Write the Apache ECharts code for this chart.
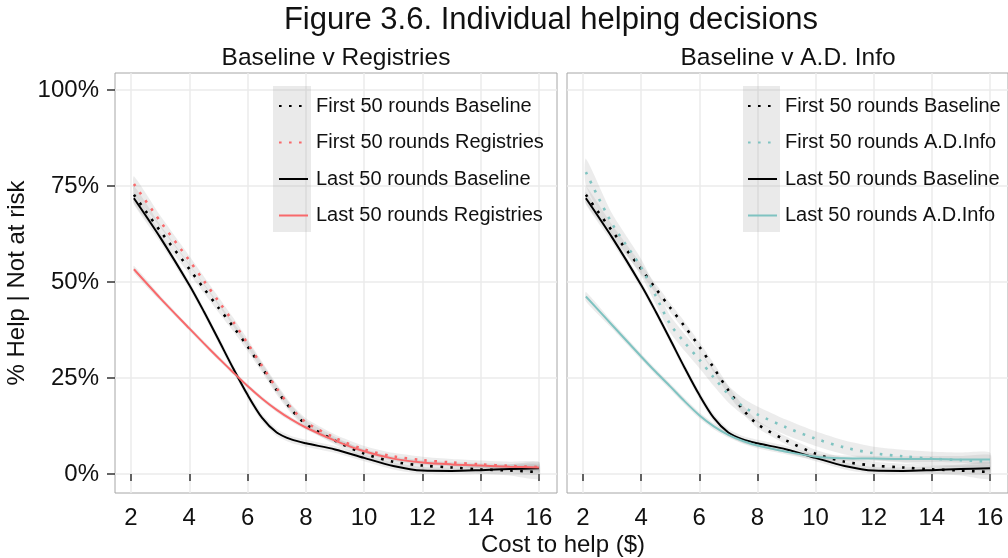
<!DOCTYPE html>
<html><head><meta charset="utf-8">
<script src="https://cdn.jsdelivr.net/npm/echarts@6/dist/echarts.min.js"></script>
<style>html,body{margin:0;padding:0;background:#fff}#c{width:1008px;height:558px}</style>
</head><body><div id="c"></div>
<script>
// ---- data ----
const costs = [2.1, 3, 4, 4.5, 5, 5.5, 6, 6.5, 7, 7.5, 8, 9, 10, 11, 12, 13, 14, 15, 16];
const xTicks = [2, 4, 6, 8, 10, 12, 14, 16];
const yTicks = [0, 25, 50, 75, 100];

const firstBaseline   = [72.7, 63.3, 53.4, 48.3, 43.3, 38.4, 33.2, 27.6, 21.8, 16.8, 13.0, 8.7, 5.3, 3.2, 2.2, 1.7, 1.2, 0.9, 0.5];
const firstRegistries = [75.5, 65.8, 55.6, 50.3, 45.0, 39.7, 34.0, 28.1, 22.3, 17.2, 13.5, 9.4, 6.4, 4.6, 3.6, 3.0, 2.5, 2.1, 1.8];
const lastBaseline    = [71.8, 61.6, 49.2, 42.3, 35.0, 27.6, 20.6, 14.6, 10.8, 9.0, 8.0, 6.4, 4.2, 2.1, 0.9, 0.8, 1.0, 1.3, 1.5];
const lastRegistries  = [53.3, 45.8, 37.9, 34.0, 30.2, 26.5, 22.9, 19.6, 16.7, 14.2, 12.1, 8.7, 5.9, 4.0, 3.0, 2.5, 2.2, 1.9, 1.7];
const firstADInfo     = [78.6, 65.2, 53.8, 46.4, 39.0, 34.2, 29.8, 25.1, 20.8, 17.6, 15.5, 12.1, 9.2, 6.9, 5.4, 4.6, 4.0, 3.6, 3.2];
const lastADInfo      = [46.2, 38.8, 30.6, 26.6, 22.8, 18.9, 15.3, 12.4, 10.2, 8.6, 7.4, 5.8, 4.5, 4.1, 4.0, 3.9, 3.9, 3.8, 3.8];

// confidence band half-widths (percentage points)
const seFirstBaseline   = [2.2, 1.6, 1.3, 1.2, 1.2, 1.2, 1.2, 1.2, 1.2, 1.1, 1.0, 1.0, 1.0, 1.0, 1.0, 1.0, 1.1, 1.3, 1.8];
const seFirstRegistries = [2.0, 1.5, 1.2, 1.1, 1.1, 1.1, 1.1, 1.1, 1.1, 1.0, 1.0, 0.9, 0.9, 0.9, 0.9, 0.9, 1.0, 1.1, 1.4];
const seLastBaseline    = [1.6, 1.2, 1.0, 1.0, 1.0, 1.0, 1.0, 1.0, 0.9, 0.9, 0.9, 0.9, 0.9, 0.9, 0.9, 0.9, 1.0, 1.2, 1.6];
const seLastRegistries  = [0.9, 0.7, 0.6, 0.6, 0.6, 0.6, 0.6, 0.6, 0.6, 0.6, 0.6, 0.6, 0.6, 0.6, 0.6, 0.6, 0.6, 0.7, 0.9];
const seFirstADInfo     = [3.5, 2.6, 2.2, 2.2, 2.2, 2.2, 2.2, 2.2, 2.2, 2.2, 2.1, 2.0, 1.9, 1.8, 1.7, 1.7, 1.8, 2.0, 2.4];
const seLastADInfo      = [1.2, 0.9, 0.8, 0.8, 0.8, 0.8, 0.8, 0.8, 0.7, 0.7, 0.7, 0.7, 0.7, 0.7, 0.7, 0.7, 0.8, 0.9, 1.2];

const names = {
  fb: 'First 50 rounds Baseline', fr: 'First 50 rounds Registries',
  lb: 'Last 50 rounds Baseline',  lr: 'Last 50 rounds Registries',
  fa: 'First 50 rounds A.D.Info', la: 'Last 50 rounds A.D.Info'
};

// ---- styling ----
const FONT = 'Liberation Sans, Arial, Helvetica, sans-serif';
const BLACK = '#000000', RED = '#f8696b', TEAL = '#7fc3c1';
const TXT = '#111111';

function lineSeries(name, vals, color, dotted, gi) {
  return {
    type: 'line', name: name, xAxisIndex: gi, yAxisIndex: gi,
    data: costs.map((x, i) => [x, vals[i]]),
    showSymbol: false, symbol: 'none', smooth: 0.3,
    z: 3, silent: true,
    lineStyle: { color: color, width: dotted ? 2.6 : 2, type: dotted ? [2.6, 7.4] : 'solid' },
    itemStyle: { color: color }
  };
}
function ribbon(vals, se, gi) {
  return {
    type: 'custom', xAxisIndex: gi, yAxisIndex: gi, silent: true, z: 1, clip: true,
    data: costs.map((x, i) => [x, vals[i] - se[i], vals[i] + se[i]]),
    encode: { x: 0, y: [1, 2] },
    renderItem: function (params, api) {
      if (params.dataIndex !== 0) return null;
      const pts = [];
      for (let i = 0; i < costs.length; i++) pts.push(api.coord([costs[i], vals[i] + se[i]]));
      for (let i = costs.length - 1; i >= 0; i--) pts.push(api.coord([costs[i], vals[i] - se[i]]));
      return { type: 'polygon', shape: { points: pts, smooth: 0.2 }, style: { fill: 'rgba(150,150,150,0.18)' } };
    }
  };
}
function xAxisCfg(gi) {
  return {
    gridIndex: gi, type: 'value', min: 1.45, max: 16.62,
    axisLine: { show: false },
    axisTick: { show: true, length: 7, customValues: xTicks, lineStyle: { color: '#333', width: 1.5 } },
    axisLabel: { customValues: xTicks, fontSize: 24, color: TXT, fontFamily: FONT, margin: 13 },
    splitLine: { show: true, lineStyle: { color: '#ebebeb', width: 1.5 } }
  };
}
function yAxisCfg(gi) {
  return {
    gridIndex: gi, type: 'value', min: -4.95, max: 104.4,
    axisLine: { show: false },
    axisTick: { show: gi === 0, length: 8, customValues: yTicks, lineStyle: { color: '#333', width: 1.5 } },
    axisLabel: { show: gi === 0, customValues: yTicks, fontSize: 24, color: TXT, fontFamily: FONT, margin: 16,
                 formatter: v => v + '%' },
    splitLine: { show: true, lineStyle: { color: '#ebebeb', width: 1.5 } }
  };
}
function legendCfg(left, data) {
  return {
    left: left, top: 96, orient: 'vertical', padding: 0, selectedMode: false,
    itemWidth: 29, itemHeight: 14, itemGap: 16.5,
    itemStyle: { opacity: 0, borderWidth: 0 },
    data: data,
    textStyle: { fontSize: 20, lineHeight: 20, color: TXT, fontFamily: FONT, padding: [0, 0, 0, 3] }
  };
}

const chart = echarts.init(document.getElementById('c'), null, { renderer: 'canvas' });
chart.setOption({
  animation: false,
  backgroundColor: '#ffffff',
  textStyle: { fontFamily: FONT },
  title: [
    { text: 'Figure 3.6. Individual helping decisions', left: 551, top: 5, textAlign: 'center', padding: 0,
      textStyle: { fontSize: 31, fontWeight: 'normal', color: TXT, fontFamily: FONT } },
    { text: 'Baseline v Registries', left: 336, top: 46, textAlign: 'center', padding: 0,
      textStyle: { fontSize: 24.5, fontWeight: 'normal', color: TXT, fontFamily: FONT } },
    { text: 'Baseline v A.D. Info', left: 788, top: 46, textAlign: 'center', padding: 0,
      textStyle: { fontSize: 24.5, fontWeight: 'normal', color: TXT, fontFamily: FONT } },
    { text: 'Cost to help ($)', left: 563, top: 533, textAlign: 'center', padding: 0,
      textStyle: { fontSize: 24, fontWeight: 'normal', color: TXT, fontFamily: FONT } }
  ],
  graphic: [
    { type: 'text', x: 17, y: 283, rotation: Math.PI / 2, z: 10,
      style: { text: '% Help | Not at risk', fontSize: 24, fontFamily: FONT, fill: TXT, align: 'center', verticalAlign: 'middle' } },
    { type: 'rect', shape: { x: 273, y: 86, width: 38, height: 146 }, z: 1, silent: true,
      style: { fill: 'rgba(150,150,150,0.2)' } },
    { type: 'rect', shape: { x: 743, y: 86, width: 37, height: 146 }, z: 1, silent: true,
      style: { fill: 'rgba(150,150,150,0.2)' } }
  ],
  legend: [
    legendCfg(278, [names.fb, names.fr, names.lb, names.lr]),
    legendCfg(747, [names.fb, names.fa, names.lb, names.la])
  ],
  grid: [
    { left: 115, top: 73, width: 442, height: 420, show: true, borderColor: '#a6a6a6', borderWidth: 1, backgroundColor: 'transparent' },
    { left: 567, top: 73, width: 442, height: 420, show: true, borderColor: '#a6a6a6', borderWidth: 1, backgroundColor: 'transparent' }
  ],
  xAxis: [xAxisCfg(0), xAxisCfg(1)],
  yAxis: [yAxisCfg(0), yAxisCfg(1)],
  series: [
    ribbon(firstBaseline, seFirstBaseline, 0),
    ribbon(firstRegistries, seFirstRegistries, 0),
    ribbon(lastBaseline, seLastBaseline, 0),
    ribbon(lastRegistries, seLastRegistries, 0),
    ribbon(firstBaseline, seFirstBaseline, 1),
    ribbon(firstADInfo, seFirstADInfo, 1),
    ribbon(lastBaseline, seLastBaseline, 1),
    ribbon(lastADInfo, seLastADInfo, 1),
    lineSeries(names.fb, firstBaseline, BLACK, true, 0),
    lineSeries(names.fr, firstRegistries, RED, true, 0),
    lineSeries(names.lb, lastBaseline, BLACK, false, 0),
    lineSeries(names.lr, lastRegistries, RED, false, 0),
    lineSeries(names.fb, firstBaseline, BLACK, true, 1),
    lineSeries(names.fa, firstADInfo, TEAL, true, 1),
    lineSeries(names.lb, lastBaseline, BLACK, false, 1),
    lineSeries(names.la, lastADInfo, TEAL, false, 1)
  ]
});
</script>
</body></html>
